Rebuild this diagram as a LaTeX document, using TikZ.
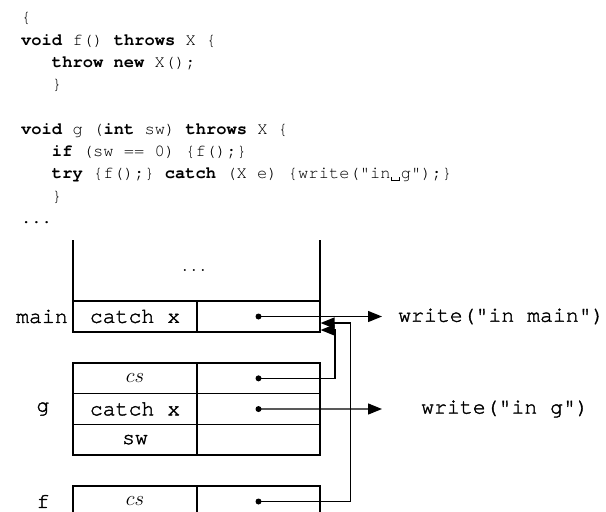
\documentclass[tikz,border=0pt]{standalone}
\usepackage{fontspec}
\setmonofont{TeX Gyre Cursor}
% slightly heavier typewriter face for the frame diagram
\newfontfamily\diagtt[FakeBold=1.6]{TeX Gyre Cursor}
\usetikzlibrary{arrows.meta}
% visible space sign, one monospace cell wide
\newcommand\visspace{\makebox[0.6em]{\rule[-0.14em]{0.05em}{0.24em}\rule[-0.14em]{0.44em}{0.05em}\rule[-0.14em]{0.05em}{0.24em}}}
\newcommand\kw[1]{\textbf{#1}}

\begin{document}
\begin{tikzpicture}[x=1pt,y=-1pt,
  codeline/.style={anchor=base west, inner sep=0, font=\fontsize{17.1}{20}\selectfont\ttfamily},
  cellbox/.style={draw, line width=1.3pt, anchor=north west, inner sep=0, outer sep=0,
    font=\fontsize{21.5}{24}\selectfont\diagtt},
  lcell/.style={cellbox, minimum width=124pt},
  rcell/.style={cellbox, minimum width=123pt},
  framelabel/.style={inner sep=0, font=\fontsize{21.5}{24}\selectfont\diagtt},
  dotnode/.style={circle, fill, inner sep=0, minimum size=6pt},
  conn/.style={line width=1.3pt, -{Triangle[length=14pt,width=11pt]}},
  wire/.style={line width=1.3pt},
]
\useasboundingbox (0,0) rectangle (606,512);
\clip (0,0) rectangle (606,512);

% ---- source code ----
\node[codeline] (c0) at (21,22.7)   {\{};
\node[codeline] (c1) at (21,45)     {\kw{void} f() \kw{throws} X \{};
\node[codeline] (c2) at (51.8,67.3) {\kw{throw} \kw{new} X();};
\node[codeline] (c3) at (51.8,89.6) {\}};
\node[codeline] (c4) at (21,134.2)  {\kw{void} g (\kw{int} sw) \kw{throws} X \{};
\node[codeline] (c5) at (51.8,156.5) {\kw{if} (sw == 0) \{f();\}};
\node[codeline] (c6) at (51.8,178.8) {\kw{try} \{f();\} \kw{catch} (X e) \{write("in\visspace g");\}};
\node[codeline] (c7) at (51.8,201.1) {\}};
\node[codeline] (c8) at (21,223.4)  {...};

% ---- frame of main ----
\coordinate (frameTL) at (73,240);
\coordinate (frameTR) at (320,240);
\node[lcell, minimum height=31pt] (mainL) at (73,301) {catch x};
\node[rcell, minimum height=31pt] (mainR) at (197,301) {};
\draw[wire] (frameTL) -- (mainL.north west);
\draw[wire] (frameTR) -- (mainR.north east);
\node[inner sep=0, font=\fontsize{21}{24}\selectfont] (dots) at (194,270) {$\ldots$};
\node[framelabel] (lmain) at (42,316.5) {main};

% ---- frame of g ----
\node[lcell, minimum height=30.7pt] (gcsL) at (73,363) {$cs$};
\node[rcell, minimum height=30.7pt] (gcsR) at (197,363) {};
\node[lcell, minimum height=30.7pt] (gcatL) at (73,393.7) {catch x};
\node[rcell, minimum height=30.7pt] (gcatR) at (197,393.7) {};
\node[lcell, minimum height=30.7pt] (gswL) at (73,424.3) {sw};
\node[rcell, minimum height=30.7pt] (gswR) at (197,424.3) {};
\node[framelabel] (lg) at (43,409) {g};

% ---- frame of f ----
\node[lcell, minimum height=31pt] (fcsL) at (73,486) {$cs$};
\node[rcell, minimum height=31pt] (fcsR) at (197,486) {};
\node[framelabel] (lf) at (43,501.5) {f};

% ---- pointers ----
\node[dotnode] (dmain) at (mainR) {};
\node[dotnode] (dgcs) at (gcsR) {};
\node[dotnode] (dgcat) at (gcatR) {};
\node[dotnode] (dfcs) at (fcsR) {};

\node[framelabel, anchor=west] (wmain) at (398,316.5) {write("in main")};
\node[framelabel, anchor=west] (wg) at (421,409) {write("in g")};
\coordinate (tipMain) at (382,316.5);
\coordinate (tipG) at (382,409);
\draw[conn] (dmain.center) -- (tipMain);
\draw[conn] (dgcat.center) -- (tipG);

\coordinate (csTurn) at (335,330);
\coordinate (csHit) at (320.6,330);
\draw[conn] (dgcs.center) -| (csTurn) -- (csHit);
\coordinate (fTurn) at (350.5,323);
\coordinate (fHit) at (320.6,323);
\draw[conn] (dfcs.center) -| (fTurn) -- (fHit);
\end{tikzpicture}
\end{document}
